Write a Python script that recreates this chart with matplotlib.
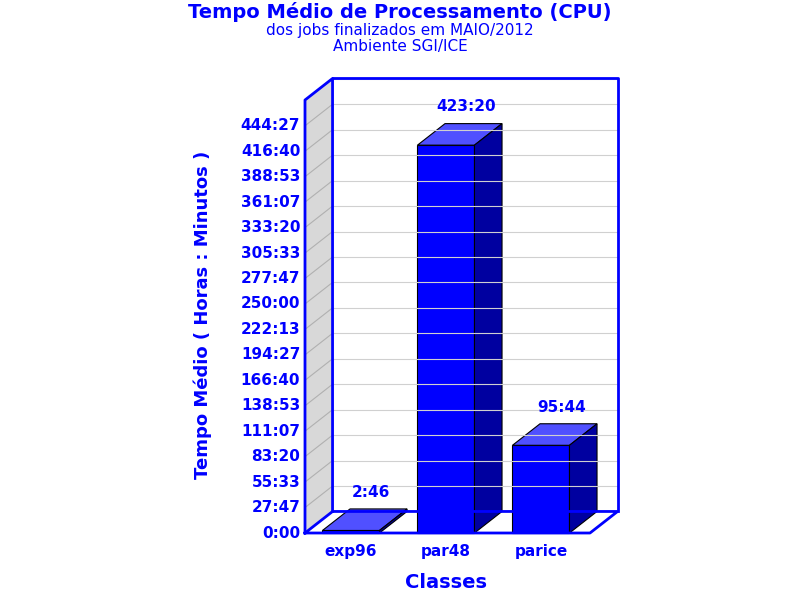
import matplotlib
matplotlib.use("Agg")
import matplotlib.pyplot as plt
from matplotlib.patches import Polygon

categories = ["exp96", "par48", "parice"]
values_h = [2 + 46/60, 423 + 20/60, 95 + 44/60]
value_labels = ["2:46", "423:20", "95:44"]
tick_labels = ["0:00","27:47","55:33","83:20","111:07","138:53","166:40","194:27","222:13",
               "250:00","277:47","305:33","333:20","361:07","388:53","416:40","444:27"]
tick_vals = [i * (444 + 27/60) / 16 for i in range(17)]

BLUE = "#0000FF"
fig = plt.figure(figsize=(8, 6), dpi=100)
ax = fig.add_axes([305/800, 67/600, 285/800, 433/600])
x0, x1 = -0.484, 2.516
y0, y1 = 0, 472.6
ax.set_xlim(x0, x1); ax.set_ylim(y0, y1)
ax.axis("off")
dx, dy = 0.29, 23.5
kw = dict(clip_on=False)

# left wall
ax.add_patch(Polygon([(x0, y0), (x0+dx, y0+dy), (x0+dx, y1+dy), (x0, y1)], closed=True,
                     facecolor="#d8d8d8", edgecolor="none", **kw))
# back wall
ax.add_patch(Polygon([(x0+dx, y0+dy), (x1+dx, y0+dy), (x1+dx, y1+dy), (x0+dx, y1+dy)], closed=True,
                     facecolor="white", edgecolor="none", **kw))
for t in tick_vals[1:] + [tick_vals[-1] + tick_vals[1]]:
    ax.plot([x0+dx, x1+dx], [t+dy, t+dy], color="#d0d0d0", lw=0.8, **kw)
    ax.plot([x0, x0+dx], [t, t+dy], color="#b0b0b0", lw=0.8, **kw)
# outlines
lw = 2
ax.plot([x0, x0+dx, x1+dx, x1, x0], [y0, y0+dy, y0+dy, y0, y0], color=BLUE, lw=lw, **kw)
ax.plot([x0, x0, x0+dx, x0+dx], [y0, y1, y1+dy, y0+dy], color=BLUE, lw=lw, **kw)
ax.plot([x0+dx, x1+dx, x1+dx], [y1+dy, y1+dy, y0+dy], color=BLUE, lw=lw, **kw)

w = 0.6
for i, v in enumerate(values_h):
    l, r = i - w/2, i + w/2
    ax.add_patch(Polygon([(l, 0), (r, 0), (r, v), (l, v)], closed=True, facecolor="#0000FF",
                         edgecolor="black", lw=0.8, **kw))
    ax.add_patch(Polygon([(l, v), (r, v), (r+dx, v+dy), (l+dx, v+dy)], closed=True,
                         facecolor="#5050FF", edgecolor="black", lw=0.8, **kw))
    ax.add_patch(Polygon([(r, 0), (r+dx, dy), (r+dx, v+dy), (r, v)], closed=True,
                         facecolor="#0000A0", edgecolor="black", lw=0.8, **kw))
    ax.text(i + dx/2 + 0.07, v + dy + 10, value_labels[i], color=BLUE, fontsize=11,
            fontweight="bold", ha="center", va="bottom")
    ax.text(i, -12, categories[i], color=BLUE, fontsize=11, fontweight="bold",
            ha="center", va="top")

for t, lab in zip(tick_vals, tick_labels):
    ax.text(x0 - 0.05, t, lab, color=BLUE, fontsize=11, fontweight="bold", ha="right", va="center")

fig.text(0.5, 1 - 12/600, "Tempo Médio de Processamento (CPU)", color=BLUE, fontsize=14,
         fontweight="bold", ha="center", va="center")
fig.text(0.5, 1 - 31/600, "dos jobs finalizados em MAIO/2012", color=BLUE, fontsize=11,
         ha="center", va="center")
fig.text(0.5, 1 - 47/600, "Ambiente SGI/ICE", color=BLUE, fontsize=11, ha="center", va="center")
fig.text(203/800, 1 - 315/600, "Tempo Médio ( Horas : Minutos )", color=BLUE, fontsize=13,
         fontweight="bold", rotation=90, ha="center", va="center")
fig.text(446/800, 1 - 583/600, "Classes", color=BLUE, fontsize=14, fontweight="bold",
         ha="center", va="center")
fig.savefig("out.png", dpi=100)
